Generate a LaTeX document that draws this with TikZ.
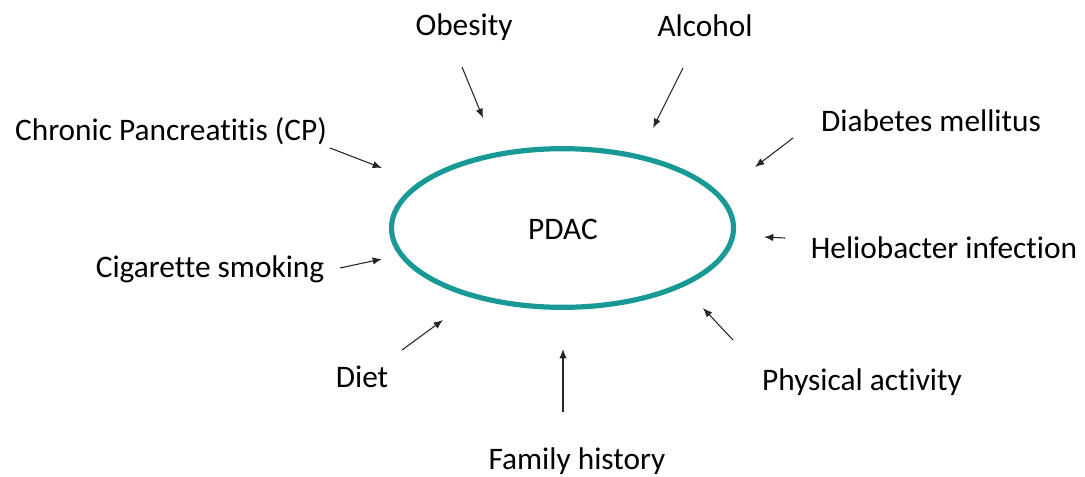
\documentclass[tikz,border=0pt]{standalone}
\usepackage{fontspec}
\setmainfont{Carlito}[Ligatures=NoCommon]
\usetikzlibrary{shapes.geometric,arrows.meta}

\definecolor{pdacteal}{RGB}{24,153,149}

\tikzset{
  factor/.style={anchor=base, inner sep=0pt, font=\fontsize{23.5}{28}\selectfont},
  riskarrow/.style={-{Latex[length=7pt,width=5.5pt]}, line width=0.8pt, black!85}
}

\begin{document}
\begin{tikzpicture}[x=0.75pt, y=-0.75pt]

  % Frame
  \useasboundingbox (0,0) rectangle (1085,476);

  % Central ellipse
  \node[ellipse, draw=pdacteal, line width=3.9pt, minimum width=256.5pt, minimum height=119pt, inner sep=0pt] (pdac) at (562.5,228) {};
  \node[factor] (pdactext) at (563,239) {PDAC};

  % Risk factors
  \node[factor] (obesity)  at (464,35)  {Obesity};
  \node[factor] (alcohol)  at (705,36)  {Alcohol};
  \node[factor] (cp)       at (171,140) {Chronic Pancreatitis (CP)};
  \node[factor] (diabetes) at (931,131) {Diabetes mellitus};
  \node[factor] (helio)    at (944,258) {Heliobacter infection};
  \node[factor] (smoking)  at (210,277) {Cigarette smoking};
  \node[factor] (diet)     at (362,387) {Diet};
  \node[factor] (activity) at (862,390) {Physical activity};
  \node[factor] (family)   at (577,469) {Family history};

  % Arrow ends: tail near label, tip near ellipse
  \coordinate (obesityT)  at (462,67);  \coordinate (obesityH)  at (483,118);
  \coordinate (alcoholT)  at (683,68);  \coordinate (alcoholH)  at (653,128);
  \coordinate (cpT)       at (330,148); \coordinate (cpH)       at (382,168);
  \coordinate (diabetesT) at (793,138); \coordinate (diabetesH) at (755,167);
  \coordinate (helioT)    at (785,238); \coordinate (helioH)    at (764,237);
  \coordinate (smokingT)  at (340,268); \coordinate (smokingH)  at (382,259);
  \coordinate (dietT)     at (402,350); \coordinate (dietH)     at (443,320);
  \coordinate (activityT) at (733,340); \coordinate (activityH) at (703,308);
  \coordinate (familyT)   at (563,412); \coordinate (familyH)   at (563,349);

  % Arrows
  \foreach \f in {obesity,alcohol,cp,diabetes,helio,smoking,diet,activity,family}
    \draw[riskarrow] (\f T) -- (\f H);
\end{tikzpicture}
\end{document}
